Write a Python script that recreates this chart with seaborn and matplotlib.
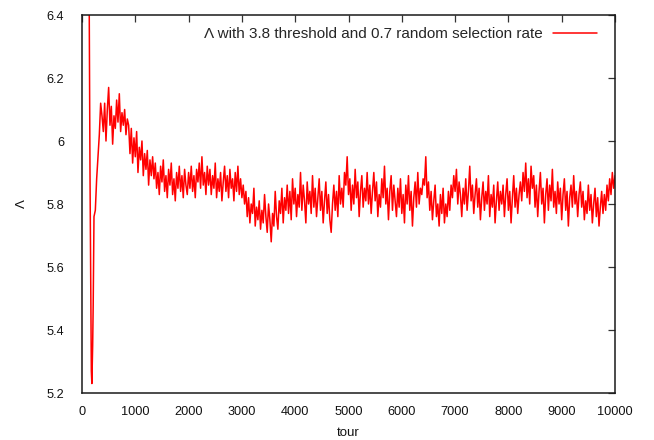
import numpy as np
import pandas as pd
import matplotlib
matplotlib.use("Agg")
import matplotlib.pyplot as plt
from matplotlib.ticker import FuncFormatter
import seaborn as sns

# ---- data -------------------------------------------------------------
start_tours = [100, 125, 150, 175, 185, 200, 210, 225, 250, 275, 300, 325, 350]
start_vals = [7.5, 6.8, 5.9, 5.27, 5.23, 5.35, 5.48, 5.76, 5.78, 5.88, 5.95, 6.02, 6.12]

body_first_tour = 375
body_step = 25
body_vals = [
    # 375 .. 850
    6.08, 6.03, 6.12, 6.00, 6.10, 6.17, 6.05, 6.11, 5.99, 6.08,
    6.04, 6.13, 6.06, 6.15, 6.03, 6.09, 6.05, 6.10, 6.02, 6.07,
    # 875 .. 1350
    6.05, 5.96, 6.04, 5.93, 6.01, 5.95, 6.03, 5.90, 5.98, 5.94,
    6.00, 5.89, 5.96, 5.91, 5.97, 5.86, 5.94, 5.89, 5.95, 5.88,
    # 1375 .. 1850
    5.93, 5.85, 5.90, 5.83, 5.92, 5.87, 5.94, 5.84, 5.89, 5.82,
    5.91, 5.86, 5.93, 5.83, 5.88, 5.81, 5.90, 5.85, 5.92, 5.84,
    # 1875 .. 2350
    5.89, 5.82, 5.91, 5.86, 5.83, 5.90, 5.85, 5.92, 5.84, 5.89,
    5.82, 5.91, 5.87, 5.93, 5.85, 5.95, 5.86, 5.90, 5.83, 5.92,
    # 2375 .. 2850
    5.86, 5.91, 5.83, 5.89, 5.85, 5.93, 5.82, 5.88, 5.84, 5.90,
    5.81, 5.87, 5.92, 5.84, 5.89, 5.82, 5.91, 5.85, 5.88, 5.81,
    # 2875 .. 3350
    5.90, 5.84, 5.92, 5.83, 5.88, 5.82, 5.86, 5.80, 5.84, 5.76,
    5.82, 5.74, 5.80, 5.77, 5.85, 5.73, 5.79, 5.75, 5.81, 5.72,
    # 3375 .. 3850
    5.78, 5.74, 5.83, 5.76, 5.71, 5.80, 5.75, 5.68, 5.77, 5.73,
    5.84, 5.76, 5.72, 5.81, 5.77, 5.85, 5.74, 5.82, 5.78, 5.86,
    # 3875 .. 4350
    5.77, 5.84, 5.75, 5.88, 5.80, 5.85, 5.76, 5.83, 5.79, 5.90,
    5.78, 5.86, 5.81, 5.74, 5.87, 5.80, 5.84, 5.77, 5.89, 5.79,
    # 4375 .. 4850
    5.85, 5.76, 5.82, 5.88, 5.78, 5.84, 5.74, 5.81, 5.87, 5.77,
    5.83, 5.75, 5.71, 5.80, 5.86, 5.78, 5.84, 5.76, 5.89, 5.80,
    # 4875 .. 5350
    5.85, 5.79, 5.90, 5.86, 5.95, 5.83, 5.88, 5.78, 5.86, 5.80,
    5.91, 5.82, 5.87, 5.76, 5.84, 5.89, 5.79, 5.85, 5.81, 5.90,
    # 5375 .. 5850
    5.80, 5.86, 5.77, 5.84, 5.90, 5.81, 5.87, 5.76, 5.83, 5.79,
    5.88, 5.82, 5.92, 5.80, 5.85, 5.75, 5.84, 5.89, 5.78, 5.86,
    # 5875 .. 6350
    5.81, 5.76, 5.85, 5.79, 5.88, 5.77, 5.83, 5.74, 5.86, 5.80,
    5.89, 5.78, 5.84, 5.73, 5.82, 5.87, 5.79, 5.90, 5.80, 5.85,
    # 6375 .. 6850
    5.83, 5.88, 5.86, 5.95, 5.82, 5.87, 5.78, 5.84, 5.75, 5.81,
    5.86, 5.76, 5.80, 5.73, 5.83, 5.77, 5.85, 5.74, 5.80, 5.76,
    # 6875 .. 7350
    5.84, 5.78, 5.86, 5.82, 5.89, 5.84, 5.91, 5.80, 5.87, 5.83,
    5.76, 5.85, 5.80, 5.88, 5.78, 5.84, 5.92, 5.81, 5.86, 5.77,
    # 7375 .. 7850
    5.83, 5.88, 5.79, 5.85, 5.75, 5.82, 5.87, 5.78, 5.84, 5.80,
    5.89, 5.76, 5.83, 5.79, 5.86, 5.74, 5.81, 5.87, 5.78, 5.84,
    # 7875 .. 8350
    5.80, 5.86, 5.76, 5.83, 5.88, 5.78, 5.84, 5.74, 5.82, 5.89,
    5.79, 5.85, 5.77, 5.83, 5.87, 5.81, 5.90, 5.84, 5.93, 5.82,
    # 8375 .. 8850
    5.88, 5.80, 5.92, 5.85, 5.89, 5.79, 5.86, 5.76, 5.84, 5.90,
    5.80, 5.85, 5.74, 5.83, 5.88, 5.78, 5.86, 5.81, 5.91, 5.79,
    # 8875 .. 9350
    5.84, 5.77, 5.87, 5.80, 5.85, 5.75, 5.83, 5.88, 5.78, 5.84,
    5.73, 5.82, 5.86, 5.79, 5.89, 5.80, 5.84, 5.76, 5.83, 5.87,
    # 9375 .. 9850
    5.79, 5.84, 5.75, 5.81, 5.77, 5.86, 5.78, 5.83, 5.74, 5.80,
    5.85, 5.76, 5.82, 5.73, 5.79, 5.84, 5.77, 5.83, 5.78, 5.86,
    # 9875 .. 10000
    5.81, 5.88, 5.83, 5.90, 5.85, 5.89,
]

series_label = "\u039b with 3.8 threshold and 0.7 random selection rate"
x_label = "tour"
y_label = "\u039b"
x_ticks = [0, 1000, 2000, 3000, 4000, 5000, 6000, 7000, 8000, 9000, 10000]
y_ticks = [5.2, 5.4, 5.6, 5.8, 6.0, 6.2, 6.4]

# ---- build table -------------------------------------------------------
body_tours = body_first_tour + body_step * np.arange(len(body_vals))
df = pd.DataFrame({
    "tour": np.concatenate([start_tours, body_tours]),
    "lam": np.concatenate([start_vals, body_vals]),
})

# ---- style -------------------------------------------------------------
sns.set_style("white")
plt.rcParams["font.family"] = ["Liberation Sans", "DejaVu Sans"]
plt.rcParams["font.size"] = 9

fig = plt.figure(figsize=(6.54, 4.40), dpi=100)
ax = fig.add_axes([82 / 654, 1 - 393 / 440, (615 - 82) / 654, (393 - 15) / 440])

sns.lineplot(data=df, x="tour", y="lam", color="#ff0000", linewidth=1.1,
             ax=ax, label=series_label, estimator=None, sort=False)

ax.set_xlim(0, 10000)
ax.set_ylim(5.2, 6.4)
ax.set_xticks(x_ticks)
ax.set_yticks(y_ticks)
ax.yaxis.set_major_formatter(FuncFormatter(lambda v, p: "%g" % round(v, 4)))
ax.xaxis.set_major_formatter(FuncFormatter(lambda v, p: "%d" % v))

ax.tick_params(direction="in", length=5, width=0.9, color="#333333",
               top=True, right=True, labelsize=9.2, labelcolor="#111111")
ax.tick_params(axis="y", pad=13)
ax.tick_params(axis="x", pad=9)
for s in ax.spines.values():
    s.set_color("#1a1a1a")
    s.set_linewidth(1.1)

ax.set_xlabel(x_label, fontsize=9.5, labelpad=7, color="#111111")
ax.set_ylabel(y_label, fontsize=9.5, labelpad=13, color="#111111")

leg = ax.legend(loc="upper right", frameon=False, markerfirst=False,
                handlelength=2.9, handletextpad=0.65, fontsize=11,
                borderaxespad=0.4, bbox_to_anchor=(0.99, 1.0))

fig.savefig("out.png", dpi=100)
